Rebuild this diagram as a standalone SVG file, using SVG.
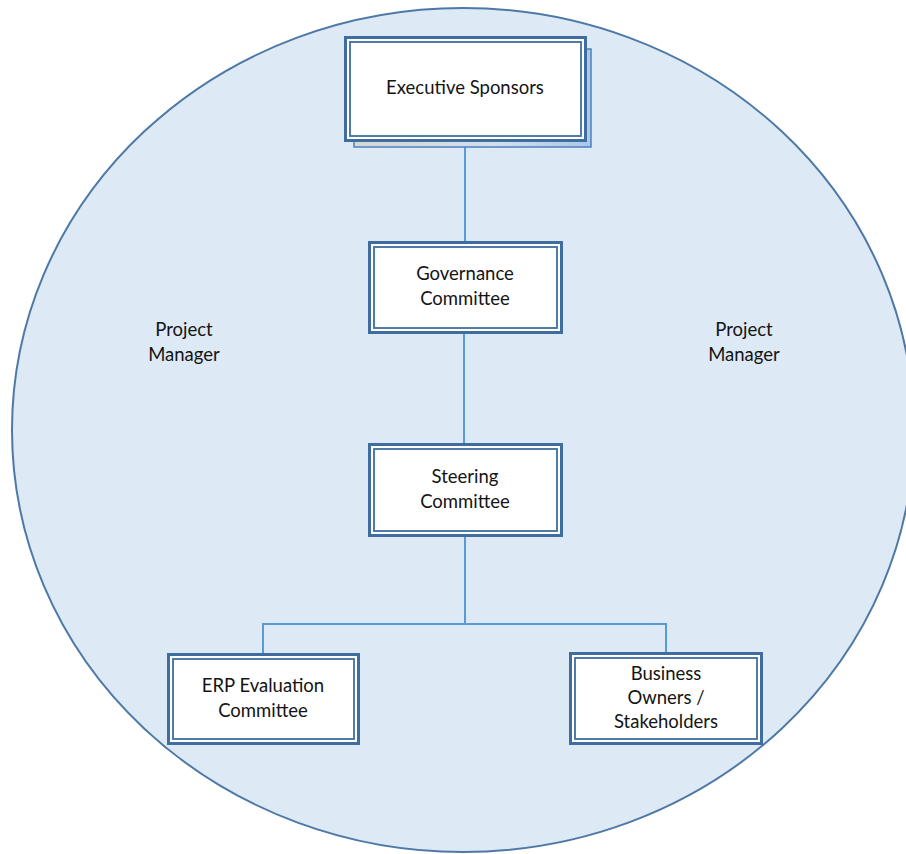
<svg xmlns="http://www.w3.org/2000/svg" width="906" height="854" viewBox="0 0 906 854">
<style>
.bg{fill:#dde9f5;stroke:#4e79a7;stroke-width:2}
.outer{fill:#ffffff;stroke:#3f6d9f;stroke-width:3}
.inner{fill:#ffffff;stroke:#3f6d9f;stroke-width:1.8}
.conn{fill:none;stroke:#5b9bd5;stroke-width:2}
text{font-family:"Lato","Liberation Sans",sans-serif;font-size:18.5px;fill:#141414;text-anchor:middle}
</style>
<defs>
<linearGradient id="sh" x1="0" y1="0" x2="1" y2="0">
<stop offset="0" stop-color="#d6d6d6"/>
<stop offset="0.6" stop-color="#d3dfec"/>
<stop offset="1" stop-color="#a9c7e8"/>
</linearGradient>
</defs>
<ellipse class="bg" cx="463" cy="430" rx="451" ry="422"/>
<g id="connectors">
<line class="conn" x1="465" y1="142" x2="465" y2="242"/>
<line class="conn" x1="464" y1="334" x2="464" y2="444"/>
<line class="conn" x1="465" y1="537" x2="465" y2="624"/>
<polyline class="conn" points="263,654 263,624 666,624 666,653"/>
</g>
<g id="exec">
<rect x="354" y="49" width="237" height="98" fill="url(#sh)" stroke="#4f81bd" stroke-width="1.5"/>
<rect class="outer" x="345.5" y="37.5" width="240" height="103"/>
<rect class="inner" x="350" y="42" width="231" height="94"/>
<text x="465" y="94">Executive Sponsors</text>
</g>
<g id="governance">
<rect class="outer" x="369.5" y="242.5" width="192" height="90"/>
<rect class="inner" x="374" y="247" width="183" height="81"/>
<text x="465" y="280">Governance</text>
<text x="465" y="305">Committee</text>
</g>
<g id="steering">
<rect class="outer" x="369.5" y="444.5" width="192" height="91"/>
<rect class="inner" x="374" y="449" width="183" height="82"/>
<text x="465" y="483">Steering</text>
<text x="465" y="508">Committee</text>
</g>
<g id="erp">
<rect class="outer" x="168.5" y="654.5" width="190" height="89"/>
<rect class="inner" x="173" y="659" width="181" height="80"/>
<text x="263" y="692">ERP Evaluation</text>
<text x="263" y="717">Committee</text>
</g>
<g id="business">
<rect class="outer" x="570.5" y="653.5" width="191" height="90"/>
<rect class="inner" x="575" y="658" width="182" height="81"/>
<text x="666" y="680">Business</text>
<text x="666" y="704">Owners /</text>
<text x="666" y="728">Stakeholders</text>
</g>
<g id="pm-left">
<text x="184" y="336">Project</text>
<text x="184" y="361">Manager</text>
</g>
<g id="pm-right">
<text x="744" y="336">Project</text>
<text x="744" y="361">Manager</text>
</g>
</svg>
